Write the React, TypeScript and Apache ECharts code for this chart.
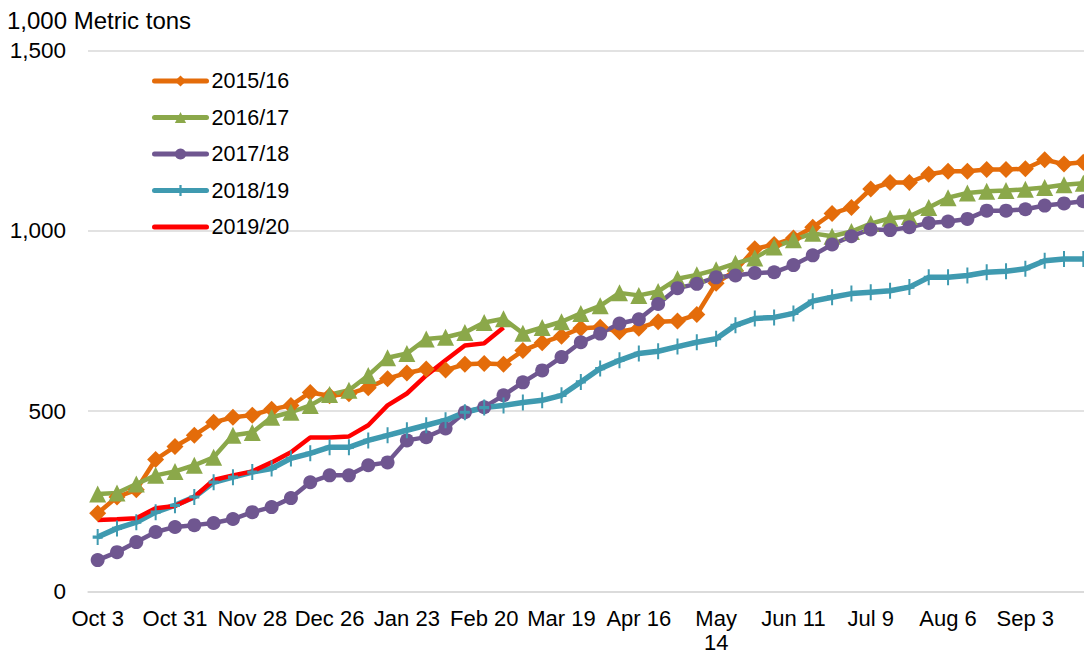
import React, { useEffect, useRef } from "react";
import * as echarts from "echarts";

const weeks = [
  "Oct 3", "Oct 10", "Oct 17", "Oct 24", "Oct 31", "Nov 7", "Nov 14", "Nov 21", "Nov 28",
  "Dec 5", "Dec 12", "Dec 19", "Dec 26", "Jan 2", "Jan 9", "Jan 16", "Jan 23", "Jan 30",
  "Feb 6", "Feb 13", "Feb 20", "Feb 27", "Mar 5", "Mar 12", "Mar 19", "Mar 26", "Apr 2",
  "Apr 9", "Apr 16", "Apr 23", "Apr 30", "May 7", "May 14", "May 21", "May 28", "Jun 4",
  "Jun 11", "Jun 18", "Jun 25", "Jul 2", "Jul 9", "Jul 16", "Jul 23", "Jul 30", "Aug 6",
  "Aug 13", "Aug 20", "Aug 27", "Sep 3", "Sep 10", "Sep 17", "Sep 24",
];

const s2015 = [
  217, 262, 282, 366, 402, 433, 469, 483, 489, 505, 516, 552, 543, 548, 565, 590, 606, 617,
  614, 630, 632, 630, 668, 690, 708, 730, 733, 720, 730, 748, 750, 768, 855, 890, 950, 962,
  980, 1010, 1048, 1065, 1116, 1134, 1134, 1157, 1165, 1165, 1170, 1170, 1172, 1197, 1185, 1190,
];
const s2016 = [
  270, 273, 298, 322, 333, 350, 372, 433, 441, 483, 497, 516, 546, 558, 599, 648, 660, 700,
  705, 718, 746, 756, 716, 732, 748, 771, 792, 828, 821, 832, 867, 878, 892, 910, 925, 955,
  975, 993, 985, 998, 1020, 1035, 1040, 1065, 1092, 1105, 1110, 1112, 1115, 1120, 1128, 1132,
];
const s2017 = [
  87, 109, 137, 165, 179, 184, 190, 201, 220, 234, 259, 303, 322, 322, 350, 358, 419, 428,
  452, 497, 511, 544, 580, 613, 650, 691, 715, 743, 755, 797, 841, 853, 871, 876, 883, 885,
  905, 932, 962, 985, 1004, 1002, 1010, 1022, 1026, 1033, 1056, 1056, 1060, 1070, 1076, 1082,
];
const s2018 = [
  151, 175, 192, 220, 239, 262, 303, 317, 331, 341, 369, 383, 400, 400, 419, 433, 447, 461,
  475, 497, 510, 516, 524, 530, 544, 581, 618, 641, 660, 666, 679, 691, 701, 738, 757, 760,
  771, 805, 816, 826, 830, 834, 844, 871, 871, 876, 885, 888, 895, 917, 922, 922,
];
const s2019 = [
  198, 200, 203, 231, 237, 262, 309, 322, 333, 358, 386, 427, 427, 430, 461, 516, 549, 599,
  641, 682, 688, 732,
];

const seriesNames = ["2015/16", "2016/17", "2017/18", "2018/19", "2019/20"];
const yTicks = [0, 500, 1000, 1500];

const FONT = "'Liberation Sans', Arial, sans-serif";
const PLUS = "path://M4,0H6V10H4Z M0,4H10V6H0Z";

export default function App() {
  const ref = useRef<HTMLDivElement>(null);
  useEffect(() => {
    if (!ref.current) return;
    const chart = echarts.init(ref.current, undefined, { renderer: "svg" });
    const colors = ["#E46C0A", "#8BA84A", "#6F5690", "#3F9AB0", "#FF0000"];
    const datasets = [s2015, s2016, s2017, s2018, s2019];
    const symbols = ["diamond", "triangle", "circle", PLUS, "none"];
    const sizes: any[] = [17, 17, 14, [10, 16], 0];
    const widths = [4.5, 4.5, 4.5, 5.5, 4.5];
    chart.setOption({
      animation: false,
      color: colors,
      textStyle: { fontFamily: FONT },
      title: {
        text: "1,000 Metric tons",
        left: 2,
        top: 3,
        textStyle: { fontFamily: FONT, fontSize: 24, fontWeight: "normal", color: "#000" },
      },
      legend: {
        orient: "vertical",
        left: 147,
        top: 65,
        itemWidth: 52,
        itemHeight: 14,
        itemGap: 14.5,
        lineStyle: { width: 5, cap: "round" },
        data: seriesNames.map((n, k) =>
          k === 4 ? { name: n, itemStyle: { color: "rgba(0,0,0,0)", borderWidth: 0 } } : { name: n }
        ),
        textStyle: { fontFamily: FONT, fontSize: 21.5, color: "#000", lineHeight: 22 },
      },
      grid: {
        left: 88,
        right: 0,
        top: 50.5,
        bottom: 64.5,
        containLabel: false,
        outerBoundsMode: "none",
      },
      xAxis: {
        type: "category",
        data: weeks,
        boundaryGap: true,
        axisLine: { show: true, lineStyle: { color: "#D9D9D9", width: 1.5 } },
        axisTick: { show: false },
        axisLabel: {
          interval: 3,
          margin: 15,
          fontFamily: FONT,
          fontSize: 22,
          color: "#000",
          lineHeight: 24,
          formatter: (v: string) => (v === "May 14" ? "May\n14" : v),
        },
        splitLine: { show: false },
      },
      yAxis: {
        type: "value",
        min: yTicks[0],
        max: yTicks[yTicks.length - 1],
        interval: 500,
        axisLine: { show: false },
        axisTick: { show: false },
        axisLabel: {
          margin: 22,
          fontFamily: FONT,
          fontSize: 22.5,
          color: "#000",
          formatter: (v: number) => v.toLocaleString("en-US"),
        },
        splitLine: { lineStyle: { color: "#D9D9D9", width: 1.5 } },
      },
      series: seriesNames.map((name, k) => ({
        name,
        type: "line",
        data: datasets[k],
        symbol: symbols[k],
        symbolSize: sizes[k],
        showSymbol: symbols[k] !== "none",
        showAllSymbol: true,
        lineStyle: { width: widths[k], color: colors[k] },
        itemStyle: { color: colors[k], borderColor: colors[k], borderWidth: 0 },
        emphasis: { disabled: true },
        clip: false,
      })),
    });
    return () => chart.dispose();
  }, []);
  return (
    <div
      style={{
        position: "absolute",
        left: 0,
        top: 0,
        width: 1084,
        height: 656,
        overflow: "hidden",
        background: "#fff",
      }}
    >
      <div ref={ref} style={{ width: 1093, height: 656 }} />
    </div>
  );
}
